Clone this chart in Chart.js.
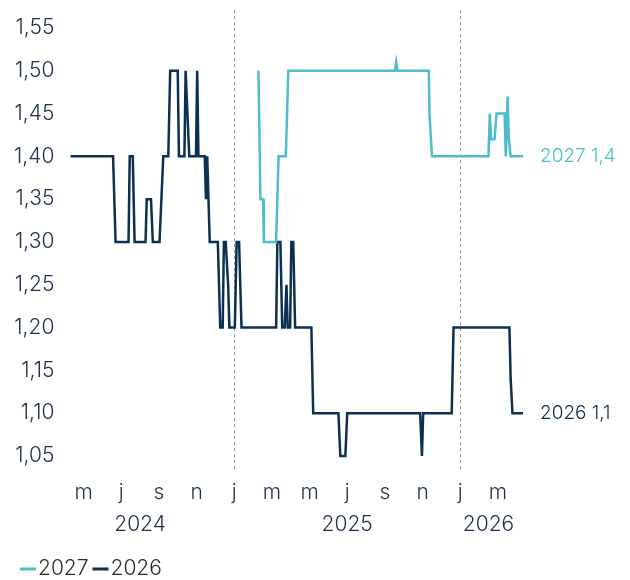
<!DOCTYPE html>
<html>
<head>
<meta charset="utf-8">
<script src="https://cdn.jsdelivr.net/npm/chart.js@4"></script>
<style>
    html, body { margin: 0; padding: 0; background: #fff; }
    #wrap { width: 630px; height: 580px; }
</style>
</head>
<body>
<div id="wrap"><canvas id="rateChart"></canvas></div>
<script>
// series (date, level)
const dates2027 = ['2025-02-09', '2025-02-12', '2025-02-16', '2025-02-17', '2025-03-08', '2025-03-12',
    '2025-03-24', '2025-03-28', '2025-09-17', '2025-09-19', '2025-09-21', '2025-11-11', '2025-11-12',
    '2025-11-16', '2026-02-15', '2026-02-17', '2026-02-19', '2026-02-24', '2026-02-27', '2026-03-12',
    '2026-03-14', '2026-03-17', '2026-03-19', '2026-03-22', '2026-04-11'];
const values2027 = [1.50, 1.35, 1.35, 1.30, 1.30, 1.40,
    1.40, 1.50, 1.50, 1.51, 1.50, 1.50, 1.45,
    1.40, 1.40, 1.45, 1.42, 1.42, 1.45, 1.45,
    1.40, 1.47, 1.42, 1.40, 1.40];

const dates2026 = ['2024-04-10', '2024-06-18', '2024-06-20', '2024-06-22', '2024-07-13', '2024-07-15',
    '2024-07-20', '2024-07-23', '2024-08-10', '2024-08-12', '2024-08-19', '2024-08-22', '2024-09-02',
    '2024-09-05', '2024-09-08', '2024-09-16', '2024-09-19', '2024-10-01', '2024-10-03', '2024-10-12',
    '2024-10-14', '2024-10-17', '2024-10-20', '2024-10-31', '2024-11-02', '2024-11-04', '2024-11-14',
    '2024-11-16', '2024-11-18', '2024-11-22', '2024-12-05', '2024-12-09', '2024-12-13', '2024-12-15',
    '2024-12-18', '2024-12-22', '2024-12-24', '2025-01-02', '2025-01-05', '2025-01-09', '2025-01-13',
    '2025-03-08', '2025-03-10', '2025-03-15', '2025-03-18', '2025-03-22', '2025-03-25', '2025-03-27',
    '2025-03-31', '2025-04-02', '2025-04-05', '2025-04-08', '2025-05-04', '2025-05-07', '2025-06-17',
    '2025-06-20', '2025-06-28', '2025-07-01', '2025-10-28', '2025-10-31', '2025-11-02', '2025-12-18',
    '2025-12-21', '2026-03-20', '2026-03-22', '2026-03-25', '2026-04-11'];
const values2026 = [1.40, 1.40, 1.35, 1.30, 1.30, 1.40,
    1.40, 1.30, 1.30, 1.35, 1.35, 1.30, 1.30,
    1.35, 1.40, 1.40, 1.50, 1.50, 1.40, 1.40,
    1.50, 1.45, 1.40, 1.40, 1.50, 1.40, 1.40,
    1.35, 1.40, 1.30, 1.30, 1.20, 1.20, 1.30,
    1.30, 1.25, 1.20, 1.20, 1.30, 1.30, 1.20,
    1.20, 1.30, 1.30, 1.20, 1.20, 1.25, 1.20,
    1.20, 1.30, 1.30, 1.20, 1.20, 1.10, 1.10,
    1.05, 1.05, 1.10, 1.10, 1.05, 1.10, 1.10,
    1.20, 1.20, 1.14, 1.10, 1.10];

// axis labels (x positions are months counted from jan 2024)
const monthTicks = [4, 6, 8, 10, 12, 14, 16, 18, 20, 22, 24, 26];
const monthLabels = ['m', 'j', 's', 'n', 'j', 'm', 'm', 'j', 's', 'n', 'j', 'm'];
const yearLabels = ['2024', '2025', '2026'];
const yearTicks = [7, 18, 25.5];
const yTicks = [1.05, 1.10, 1.15, 1.20, 1.25, 1.30, 1.35, 1.40, 1.45, 1.50, 1.55];

const TEAL = '#4dbdcb';
const NAVY = '#0c3050';
const TEXT = '#1d2f4d';
const FONT = 'Inter';

function toMonth(s) {
    const [y, m, d] = s.split('-').map(Number);
    const days = new Date(y, m, 0).getDate();
    return (y - 2024) * 12 + (m - 1) + (d - 1) / days;
}

function fmt(v) {
    return String(v).replace('.', ',');
}

const xMin = toMonth(dates2026[0]);
const xMax = toMonth(dates2026[dates2026.length - 1]);

// year row under the month letters, plus the end-of-line labels and the legend
const extras = {
    id: 'extras',
    afterDraw(chart) {
        const ctx = chart.ctx;
        const x = chart.scales.x;
        const area = chart.chartArea;
        ctx.save();
        ctx.font = '300 21px ' + FONT;
        ctx.fillStyle = TEXT;
        ctx.textAlign = 'center';
        ctx.textBaseline = 'middle';
        yearLabels.forEach((lbl, i) => {
            ctx.fillText(lbl, x.getPixelForValue(yearTicks[i]), area.bottom + 55);
        });

        ctx.textAlign = 'left';
        ctx.font = '300 19px ' + FONT;
        chart.data.datasets.forEach((ds, i) => {
            const meta = chart.getDatasetMeta(i);
            const last = meta.data[meta.data.length - 1];
            const val = ds.data[ds.data.length - 1].y;
            ctx.fillStyle = ds.borderColor;
            ctx.fillText(ds.label + ' ' + fmt(val), last.x + 17, last.y);
        });

        // legend
        ctx.font = '300 21px ' + FONT;
        let lx = 20;
        const ly = chart.height - 11;
        chart.data.datasets.forEach(ds => {
            ctx.fillStyle = ds.borderColor;
            ctx.fillRect(lx, ly - 1.5, 16, 3);
            lx += 18;
            ctx.fillStyle = '#2b2b2b';
            ctx.fillText(ds.label, lx, ly);
            lx += ctx.measureText(ds.label).width + 4;
        });
        ctx.restore();
    }
};

const rateCtx = document.getElementById('rateChart').getContext('2d');
const rateChart = new Chart(rateCtx, {
    type: 'line',
    data: {
        datasets: [{
            label: '2027',
            data: dates2027.map((d, i) => ({ x: toMonth(d), y: values2027[i] })),
            borderColor: TEAL,
            borderWidth: 2.5,
            pointRadius: 0,
            tension: 0
        }, {
            label: '2026',
            data: dates2026.map((d, i) => ({ x: toMonth(d), y: values2026[i] })),
            borderColor: NAVY,
            borderWidth: 2.5,
            pointRadius: 0,
            tension: 0
        }]
    },
    plugins: [extras],
    options: {
        responsive: true,
        maintainAspectRatio: false,
        animation: false,
        layout: {
            padding: { top: 10, right: 107, bottom: 35, left: 6 }
        },
        plugins: {
            legend: { display: false },
            tooltip: { enabled: false }
        },
        scales: {
            x: {
                type: 'linear',
                min: xMin,
                max: xMax,
                afterBuildTicks: s => { s.ticks = monthTicks.map(v => ({ value: v })); },
                afterFit: s => { s.height = 75; },
                ticks: {
                    autoSkip: false,
                    maxRotation: 0,
                    padding: 10,
                    color: TEXT,
                    font: { family: FONT, size: 21, weight: 300 },
                    callback: v => monthLabels[monthTicks.indexOf(v)]
                },
                grid: {
                    drawTicks: false,
                    color: c => (c.tick && c.tick.value % 12 === 0) ? '#9a9a9a' : 'rgba(0,0,0,0)',
                    lineWidth: 1
                },
                border: { display: false, dash: [3, 3] }
            },
            y: {
                min: 1.0336,
                max: 1.571,
                afterBuildTicks: s => { s.ticks = yTicks.map(v => ({ value: v })); },
                afterFit: s => { s.paddingTop = 0; s.paddingBottom = 0; },
                ticks: {
                    padding: 8,
                    color: TEXT,
                    font: { family: FONT, size: 21, weight: 300 },
                    callback: v => v.toFixed(2).replace('.', ',')
                },
                grid: { display: false },
                border: { display: false }
            }
        }
    }
});
</script>
</body>
</html>
